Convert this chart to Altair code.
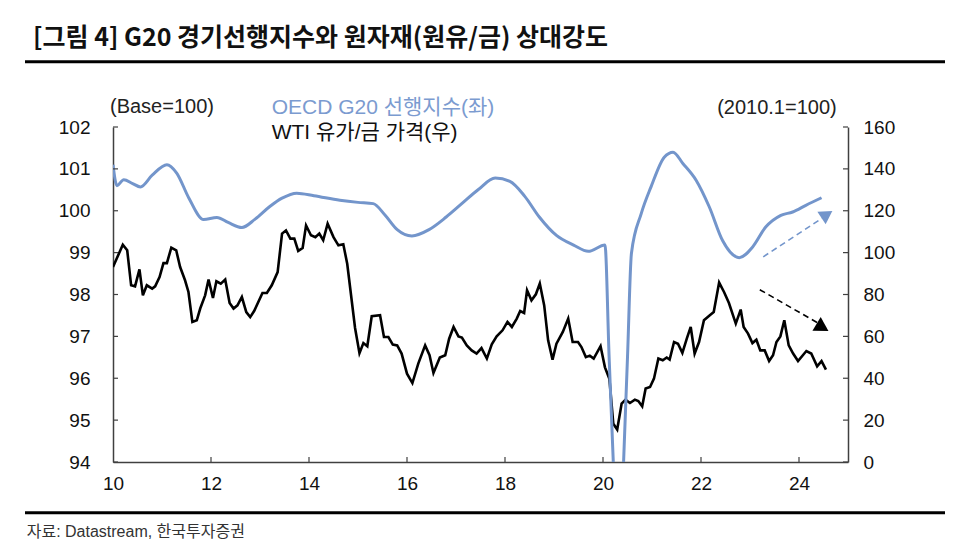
import altair as alt
import pandas as pd

# ---------------- data ----------------
CLI_YEAR = [10.00, 10.08, 10.22, 10.40, 10.56, 10.80, 11.10, 11.30, 11.55, 11.85,
            12.12, 12.35, 12.63, 12.90, 13.20, 13.45, 13.75, 14.10, 14.63, 15.00,
            15.31, 15.55, 15.80, 16.10, 16.45, 16.80, 17.10, 17.45, 17.80, 18.10,
            18.40, 18.70, 19.05, 19.40, 19.70, 20.04, 20.125, 20.21, 20.29, 20.375,
            20.42, 20.50, 20.58, 20.78, 20.98, 21.25, 21.43, 21.63, 21.90, 22.17,
            22.44, 22.78, 23.05, 23.32, 23.63, 23.87, 24.14, 24.46]
CLI_VALUE = [101.10, 100.60, 100.74, 100.65, 100.57, 100.85, 101.10, 100.90, 100.30, 99.79,
             99.84, 99.72, 99.60, 99.80, 100.10, 100.30, 100.42, 100.36, 100.25, 100.20,
             100.17, 99.90, 99.55, 99.40, 99.55, 99.85, 100.15, 100.50, 100.78, 100.70,
             100.35, 99.85, 99.41, 99.18, 99.03, 99.18, 96.50, 94.00, 92.00, 92.50,
             94.00, 96.50, 98.98, 99.93, 100.57, 101.28, 101.40, 101.13, 100.73, 100.09,
             99.29, 98.88, 99.13, 99.61, 99.89, 99.97, 100.13, 100.31]

RATIO_YEAR = [10.00, 10.20, 10.29, 10.37, 10.45, 10.54, 10.61, 10.69, 10.80, 10.86,
              10.95, 11.03, 11.10, 11.19, 11.29, 11.37, 11.47, 11.54, 11.62, 11.71,
              11.78, 11.88, 11.95, 12.04, 12.11, 12.20, 12.29, 12.38, 12.46, 12.54,
              12.63, 12.72, 12.80, 12.88, 13.05, 13.14, 13.24, 13.36, 13.45, 13.53,
              13.62, 13.70, 13.78, 13.87, 13.94, 14.04, 14.13, 14.21, 14.29, 14.38,
              14.50, 14.60, 14.70, 14.78, 14.94, 15.03, 15.11, 15.19, 15.28, 15.45,
              15.53, 15.62, 15.71, 15.80, 15.89, 16.00, 16.11, 16.23, 16.37, 16.46,
              16.54, 16.67, 16.78, 16.86, 16.95, 17.05, 17.12, 17.22, 17.32, 17.42,
              17.52, 17.63, 17.73, 17.83, 17.95, 18.05, 18.14, 18.24, 18.31, 18.39,
              18.45, 18.54, 18.63, 18.71, 18.80, 18.88, 18.97, 19.05, 19.18, 19.29,
              19.38, 19.49, 19.56, 19.65, 19.73, 19.81, 19.95, 20.04, 20.13, 20.21,
              20.29, 20.38, 20.46, 20.55, 20.65, 20.72, 20.80, 20.87, 20.96, 21.04,
              21.13, 21.22, 21.30, 21.36, 21.45, 21.53, 21.62, 21.71, 21.79, 21.87,
              21.96, 22.06, 22.18, 22.26, 22.37, 22.47, 22.57, 22.71, 22.81, 22.87,
              22.96, 23.05, 23.13, 23.21, 23.30, 23.39, 23.47, 23.54, 23.62, 23.70,
              23.79, 23.88, 23.98, 24.15, 24.25, 24.37, 24.46, 24.55]
RATIO_VALUE = [93.1, 103.8, 101.1, 84.4, 83.9, 92.0, 79.6, 84.4, 82.8, 83.9,
               88.3, 95.0, 95.0, 102.4, 101.1, 93.1, 86.8, 81.2, 66.9, 67.7,
               73.3, 79.6, 87.1, 78.3, 86.3, 85.2, 87.1, 75.9, 73.3, 74.8,
               78.8, 71.6, 69.2, 72.1, 80.7, 80.7, 84.4, 90.7, 109.1, 110.6,
               106.7, 106.7, 100.8, 102.2, 113.0, 108.3, 107.4, 109.1, 105.9, 113.8,
               107.4, 103.5, 104.0, 94.7, 64.0, 52.0, 56.8, 55.3, 69.6, 70.1,
               59.7, 59.7, 56.1, 55.7, 51.8, 42.2, 37.7, 47.0, 55.7, 51.0,
               42.5, 49.9, 51.0, 58.9, 64.5, 60.0, 59.4, 55.7, 53.3, 51.8,
               54.4, 49.4, 56.2, 60.0, 62.9, 66.9, 64.5, 68.5, 72.1, 71.2,
               82.0, 77.2, 80.1, 85.2, 74.8, 58.1, 48.9, 56.5, 62.1, 68.5,
               57.3, 57.3, 54.9, 50.1, 50.8, 49.4, 55.3, 45.2, 39.8, 18.3,
               15.5, 27.9, 29.8, 28.2, 29.8, 29.1, 26.6, 35.1, 35.8, 39.8,
               49.4, 48.6, 49.9, 48.9, 57.3, 56.5, 52.1, 58.9, 64.5, 51.8,
               57.3, 67.7, 70.1, 71.6, 85.7, 81.2, 75.9, 66.1, 72.8, 64.5,
               61.3, 56.8, 58.4, 53.3, 53.3, 48.2, 51.0, 57.3, 60.0, 67.7,
               55.7, 51.8, 48.2, 53.0, 51.8, 45.7, 48.2, 44.1]

# trend arrows (start year/value -> end year/value, head position)
CLI_ARROW = {"x0": [23.27], "y0": [98.90], "x1": [24.47], "y1": [99.82]}
CLI_HEAD = {"x": [24.57], "y": [99.91]}
RATIO_ARROW = {"x0": [23.20], "y0": [82.3], "x1": [24.43], "y1": [65.8]}
RATIO_HEAD = {"x": [24.48], "y": [64.3]}

LEFT_TICKS = [94, 95, 96, 97, 98, 99, 100, 101, 102]
RIGHT_TICKS = [0, 20, 40, 60, 80, 100, 120, 140, 160]
X_LABELS = [10, 12, 14, 16, 18, 20, 22, 24]
X_TICKS = [12, 14, 16, 18, 20, 22, 24]

TITLE = "[그림 4] G20 경기선행지수와 원자재(원유/금) 상대강도"
SOURCE = "자료: Datastream, 한국투자증권"
LEFT_UNIT = "(Base=100)"
RIGHT_UNIT = "(2010.1=100)"
CLI_NAME = "OECD G20 선행지수(좌)"
RATIO_NAME = "WTI 유가/금 가격(우)"

# ---------------- styles ----------------
W, H = 735, 335
BLUE = "#7395CB"
BLUE_TEXT = "#7B9BD0"
AXIS = "#404040"
FONT = "Liberation Sans, Noto Sans CJK KR, sans-serif"

xscale = alt.Scale(domain=[10, 25], nice=False, zero=False)
yl = alt.Scale(domain=[94, 102], nice=False, zero=False)
yr = alt.Scale(domain=[0, 160], nice=False, zero=False)

cli_df = pd.DataFrame({"year": CLI_YEAR, "value": CLI_VALUE})
ratio_df = pd.DataFrame({"year": RATIO_YEAR, "value": RATIO_VALUE})

x_axis = alt.Axis(orient="bottom", values=X_LABELS, format="d", title=None, grid=False,
                  ticks=False, tickSize=0, domain=True, domainColor=AXIS, domainWidth=1.5,
                  labelFontSize=19, labelFont=FONT, labelColor="#111", labelPadding=12,
                  labelFlush=False)
left_axis = alt.Axis(orient="left", values=LEFT_TICKS, title=None, grid=False, ticks=False,
                     tickSize=0, domain=True, domainColor=AXIS, domainWidth=1.5,
                     labelFontSize=19, labelFont=FONT, labelColor="#111", labelPadding=23)
right_axis = alt.Axis(orient="right", values=RIGHT_TICKS, title=None, grid=False, ticks=False,
                      tickSize=0, domain=True, domainColor=AXIS, domainWidth=1.5,
                      labelFontSize=19, labelFont=FONT, labelColor="#111", labelPadding=15)


def X(field):
    # every layer uses the same shared x scale and the same axis definition
    return alt.X(f"{field}:Q", scale=xscale, axis=x_axis)


# ---- left-scale marks (OECD CLI) ----
blue_line = alt.Chart(cli_df).mark_line(color=BLUE, strokeWidth=3, clip=True,
                                        interpolate="monotone").encode(
    x=X("year"),
    y=alt.Y("value:Q", scale=yl, axis=left_axis),
)
blue_arrow = alt.Chart(pd.DataFrame(CLI_ARROW)).mark_rule(
    color=BLUE, strokeDash=[6, 4], strokeWidth=1.6).encode(
    x=X("x0"),
    y=alt.Y("y0:Q", scale=yl, axis=None),
    x2="x1:Q", y2="y1:Q",
)
blue_head = alt.Chart(pd.DataFrame(CLI_HEAD)).mark_point(
    shape="triangle-up", filled=True, size=225, angle=56.5, color=BLUE, opacity=1).encode(
    x=X("x"),
    y=alt.Y("y:Q", scale=yl, axis=None),
)
left_ticks = alt.Chart(pd.DataFrame({"v": LEFT_TICKS})).mark_rule(
    color=AXIS, strokeWidth=1.2).encode(
    y=alt.Y("v:Q", scale=yl, axis=None), x=alt.value(0), x2=alt.value(5))

# ---- right-scale marks (WTI / gold) ----
black_line = alt.Chart(ratio_df).mark_line(color="#000", strokeWidth=2.6, clip=True).encode(
    x=X("year"),
    y=alt.Y("value:Q", scale=yr, axis=right_axis),
)
black_arrow = alt.Chart(pd.DataFrame(RATIO_ARROW)).mark_rule(
    color="#000", strokeDash=[6, 4], strokeWidth=1.6).encode(
    x=X("x0"),
    y=alt.Y("y0:Q", scale=yr, axis=None),
    x2="x1:Q", y2="y1:Q",
)
black_head = alt.Chart(pd.DataFrame(RATIO_HEAD)).mark_point(
    shape="triangle-up", filled=True, size=256, angle=121, color="#000", opacity=1).encode(
    x=X("x"),
    y=alt.Y("y:Q", scale=yr, axis=None),
)
right_ticks = alt.Chart(pd.DataFrame({"v": RIGHT_TICKS})).mark_rule(
    color=AXIS, strokeWidth=1.2).encode(
    y=alt.Y("v:Q", scale=yr, axis=None), x=alt.value(W), x2=alt.value(W - 5))

# ---- x ticks (inside) ----
x_ticks = alt.Chart(pd.DataFrame({"t": X_TICKS})).mark_rule(color=AXIS, strokeWidth=1.2).encode(
    x=X("t"), y=alt.value(H), y2=alt.value(H - 5))


def label(text, x, y, size, color, align="left", weight="normal", font=FONT):
    return alt.Chart(pd.DataFrame({"label": [text]})).mark_text(
        align=align, baseline="middle", fontSize=size, color=color, font=font,
        fontWeight=weight).encode(x=alt.value(x), y=alt.value(y), text="label:N")


def hline(y):
    return alt.Chart(pd.DataFrame({"k": [0]})).mark_rule(color="#000", strokeWidth=3).encode(
        x=alt.value(-88), x2=alt.value(832), y=alt.value(y))


annotations = [
    label(TITLE, -80, -88.7, 25, "#111", weight="bold", font="Noto Sans CJK KR, sans-serif"),
    hline(-65.3),
    hline(385.7),
    label(SOURCE, -86.3, 404.7, 16, "#333"),
    label(LEFT_UNIT, -3, -19.7, 20, "#222"),
    label(CLI_NAME, 158.7, -18.7, 21, BLUE_TEXT),
    label(RATIO_NAME, 158.7, 6.3, 21, "#111"),
    label(RIGHT_UNIT, 723.7, -18.7, 20, "#222", align="right"),
]

chart = alt.layer(
    black_line, black_arrow, black_head, right_ticks,
    blue_line, blue_arrow, blue_head, left_ticks,
    x_ticks, *annotations
).resolve_scale(y="independent").properties(
    width=W, height=H,
    padding={"left": 105, "top": 119, "right": 100, "bottom": 80},
    autosize=alt.AutoSizeParams(type="none"),
    background="white",
).configure_view(stroke=None)

chart.save("out.html", embed_options={"renderer": "svg", "actions": False})
